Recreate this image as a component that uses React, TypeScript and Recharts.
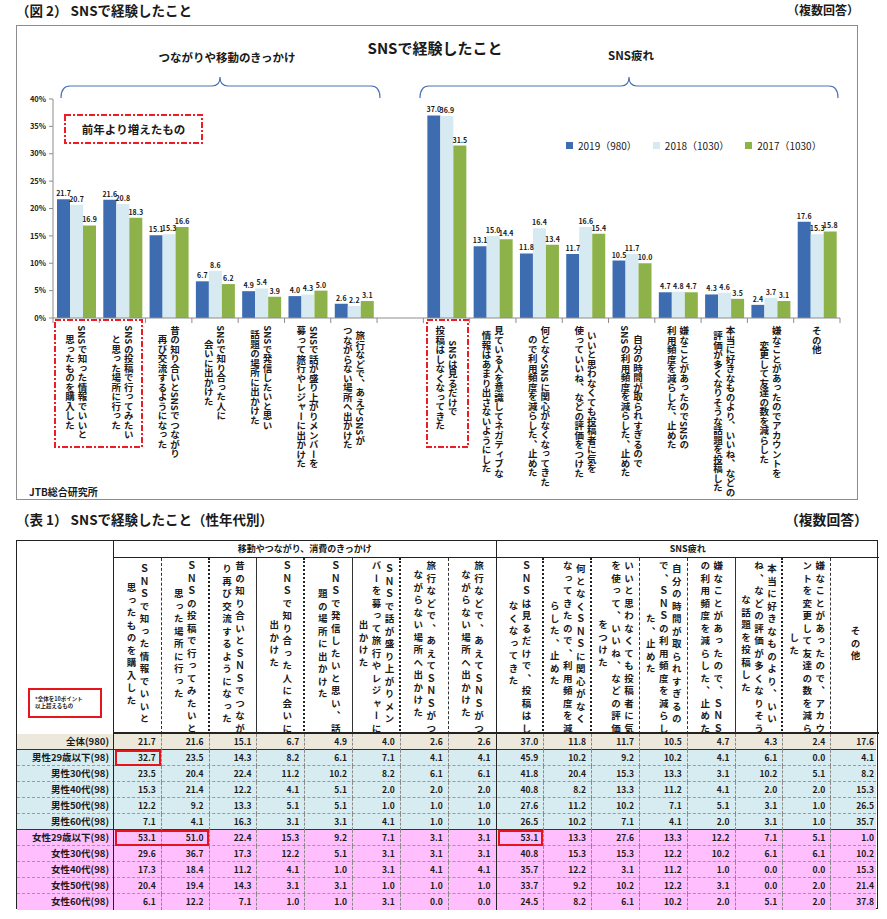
import React from 'react';
import { BarChart, Bar, XAxis, YAxis, Legend, LabelList } from 'recharts';

const FONT = "'Noto Sans CJK JP', 'Noto Sans', sans-serif";

// chart categories (c8 is the empty gap between the two groups)
const CATEGORIES = ['c1', 'c2', 'c3', 'c4', 'c5', 'c6', 'c7', 'c8', 'c9', 'c10', 'c11', 'c12', 'c13', 'c14', 'c15', 'c16', 'c17'];

const CAT_LABELS: string[][] = [
  ['SNSで知った情報でいいと', '思ったものを購入した'],
  ['SNSの投稿で行ってみたい', 'と思った場所に行った'],
  ['昔の知り合いとSNSでつながり', '再び交流するようになった'],
  ['SNSで知り合った人に', '会いに出かけた'],
  ['SNSで発信したいと思い', '話題の場所に出かけた'],
  ['SNSで話が盛り上がりメンバーを', '募って旅行やレジャーに出かけた'],
  ['旅行などで、あえてSNSが', 'つながらない場所へ出かけた'],
  [],
  ['SNSは見るだけで', '投稿はしなくなってきた'],
  ['見ている人を意識してネガティブな', '情報はあまり出さないようにした'],
  ['何となくSNSに関心がなくなってきた', 'ので利用頻度を減らした、止めた'],
  ['いいと思わなくても投稿者に気を', '使っていいね、などの評価をつけた'],
  ['自分の時間が取られすぎるので', 'SNSの利用頻度を減らした、止めた'],
  ['嫌なことがあったのでSNSの', '利用頻度を減らした、止めた'],
  ['本当に好きなものより、いいね、などの', '評価が多くなりそうな話題を投稿した'],
  ['嫌なことがあったのでアカウントを', '変更して友達の数を減らした'],
  ['その他'],
];

const V2019 = [21.7, 21.6, 15.1, 6.7, 4.9, 4.0, 2.6, null, 37.0, 13.1, 11.8, 11.7, 10.5, 4.7, 4.3, 2.4, 17.6];
const V2018 = [20.7, 20.8, 15.3, 8.6, 5.4, 4.3, 2.2, null, 36.9, 15.0, 16.4, 16.6, 11.7, 4.8, 4.6, 3.7, 15.3];
const V2017 = [16.9, 18.3, 16.6, 6.2, 3.9, 5.0, 3.1, null, 31.5, 14.4, 13.4, 15.4, 10.0, 4.7, 3.5, 3.1, 15.8];

const SERIES = [
  { key: 'y2019', name: '2019（980）', color: '#3d6cb0' },
  { key: 'y2018', name: '2018（1030）', color: '#d7eaf1' },
  { key: 'y2017', name: '2017（1030）', color: '#8db24a' },
];

const Y_TICKS = [0, 5, 10, 15, 20, 25, 30, 35, 40];

// table (表1)
const TABLE_HEADERS: string[][] = [
  ['ＳＮＳで知った情報でいいと', '思ったものを購入した'],
  ['ＳＮＳの投稿で行ってみたいと', '思った場所に行った'],
  ['昔の知り合いとＳＮＳでつなが', 'り再び交流するようになった'],
  ['ＳＮＳで知り合った人に会いに', '出かけた'],
  ['ＳＮＳで発信したいと思い、話', '題の場所に出かけた'],
  ['ＳＮＳで話が盛り上がりメン', 'バーを募って旅行やレジャーに', '出かけた'],
  ['旅行などで、あえてＳＮＳがつ', 'ながらない場所へ出かけた'],
  ['旅行などで、あえてＳＮＳがつ', 'ながらない場所へ出かけた'],
  ['ＳＮＳは見るだけで、投稿はし', 'なくなってきた'],
  ['何となくＳＮＳに関心がなく', 'なってきたので、利用頻度を減', 'らした、止めた'],
  ['いいと思わなくても投稿者に気', 'を使って、いいね、などの評価', 'をつけた'],
  ['自分の時間が取られすぎるの', 'で、ＳＮＳの利用頻度を減らし', 'た、止めた'],
  ['嫌なことがあったので、ＳＮＳ', 'の利用頻度を減らした、止めた'],
  ['本当に好きなものより、いい', 'ね、などの評価が多くなりそう', 'な話題を投稿した'],
  ['嫌なことがあったので、アカウ', 'ントを変更して友達の数を減ら', 'した'],
  ['その他'],
];

const TABLE_GROUPS = ['移動やつながり、消費のきっかけ', 'SNS疲れ'];

const ROW_LABELS = [
  '全体(980)', '男性29歳以下(98)', '男性30代(98)', '男性40代(98)', '男性50代(98)', '男性60代(98)',
  '女性29歳以下(98)', '女性30代(98)', '女性40代(98)', '女性50代(98)', '女性60代(98)',
];

const ROW_VALUES = [
  [21.7, 21.6, 15.1, 6.7, 4.9, 4.0, 2.6, 2.6, 37.0, 11.8, 11.7, 10.5, 4.7, 4.3, 2.4, 17.6],
  [32.7, 23.5, 14.3, 8.2, 6.1, 7.1, 4.1, 4.1, 45.9, 10.2, 9.2, 10.2, 4.1, 6.1, 0.0, 4.1],
  [23.5, 20.4, 22.4, 11.2, 10.2, 8.2, 6.1, 6.1, 41.8, 20.4, 15.3, 13.3, 3.1, 10.2, 5.1, 8.2],
  [15.3, 21.4, 12.2, 4.1, 5.1, 2.0, 2.0, 2.0, 40.8, 8.2, 13.3, 11.2, 4.1, 2.0, 2.0, 15.3],
  [12.2, 9.2, 13.3, 5.1, 5.1, 1.0, 1.0, 1.0, 27.6, 11.2, 10.2, 7.1, 5.1, 3.1, 1.0, 26.5],
  [7.1, 4.1, 16.3, 3.1, 3.1, 4.1, 1.0, 1.0, 26.5, 10.2, 7.1, 4.1, 2.0, 3.1, 1.0, 35.7],
  [53.1, 51.0, 22.4, 15.3, 9.2, 7.1, 3.1, 3.1, 53.1, 13.3, 27.6, 13.3, 12.2, 7.1, 5.1, 1.0],
  [29.6, 36.7, 17.3, 12.2, 5.1, 3.1, 3.1, 3.1, 40.8, 15.3, 15.3, 12.2, 10.2, 6.1, 6.1, 10.2],
  [17.3, 18.4, 11.2, 4.1, 1.0, 3.1, 4.1, 4.1, 35.7, 12.2, 3.1, 11.2, 1.0, 0.0, 0.0, 15.3],
  [20.4, 19.4, 14.3, 3.1, 3.1, 1.0, 1.0, 1.0, 33.7, 9.2, 10.2, 12.2, 3.1, 0.0, 2.0, 21.4],
  [6.1, 12.2, 7.1, 1.0, 1.0, 3.1, 0.0, 0.0, 24.5, 8.2, 6.1, 10.2, 2.0, 5.1, 2.0, 37.8],
];

// cells marked as "全体を10ポイント以上超えるもの": [row, col, span]
const HIGHLIGHTS = [[1, 0, 1], [6, 0, 2], [6, 8, 1]];

const chartData = CATEGORIES.map((c, i) => ({ key: c, y2019: V2019[i], y2018: V2018[i], y2017: V2017[i] }));

// chart layout
const CHART_W = 842;
const CHART_H = 475;
const MARGIN = { top: 74, right: 18, bottom: 7, left: 0 };
const Y_W = 37;
const BAND = (CHART_W - MARGIN.left - MARGIN.right - Y_W) / CATEGORIES.length;

const textLen = (s: string, fs: number) =>
  Array.from(s).reduce((a, ch) => a + (ch.charCodeAt(0) < 128 ? 0.62 * fs : fs), 0);

const XTick = (props: any) => {
  const { x, y, payload } = props;
  const idx = CATEGORIES.indexOf(payload.value);
  const lines = CAT_LABELS[idx] || [];
  const fs = 9.5;
  const pitch = 12.5;
  const maxLen = lines.length ? Math.max(...lines.map((l) => textLen(l, fs))) : 0;
  const cy = y + 8 + maxLen / 2;
  return (
    <g>
      <line x1={x - BAND / 2} x2={x - BAND / 2} y1={y} y2={y + 5} stroke="#8c8c8c" />
      {idx === CATEGORIES.length - 1 && (
        <line x1={x + BAND / 2} x2={x + BAND / 2} y1={y} y2={y + 5} stroke="#8c8c8c" />
      )}
      {lines.map((ln, i) => (
        <text
          key={i}
          x={x + ((lines.length - 1) / 2 - i) * pitch}
          y={cy}
          textAnchor="middle"
          style={{ writingMode: 'vertical-rl' as any }}
          fontSize={fs}
          fontWeight={700}
          fill="#1a1a1a"
          fontFamily={FONT}
        >
          {ln}
        </text>
      ))}
    </g>
  );
};

const LegendContent = () => (
  <div style={{ display: 'flex', gap: 16, fontFamily: FONT, fontSize: 10, color: '#1a1a1a', whiteSpace: 'nowrap' }}>
    {SERIES.map((s) => (
      <div key={s.key} style={{ display: 'flex', alignItems: 'center', gap: 5 }}>
        <span style={{ width: 7, height: 7, background: s.color, display: 'inline-block' }} />
        <span>{s.name}</span>
      </div>
    ))}
  </div>
);

const Centered = ({ cx, cy, fs, weight = 700, children }: any) => (
  <div
    style={{
      position: 'absolute', left: cx - 200, top: cy - fs, width: 400, height: fs * 2, lineHeight: `${fs * 2}px`,
      textAlign: 'center', fontSize: fs, fontWeight: weight, color: '#1a1a1a', whiteSpace: 'nowrap',
    }}
  >
    {children}
  </div>
);

// table layout
const TX = 16;
const TY = 540;
const TW = 862;
const LABEL_W = 97;
const COL_W = (TW - LABEL_W) / 16;
const H1 = 17;
const H2 = 176;
const ROW_H = 16;
const HDR_SEP = [
  '1px dashed #333', '2px dotted #222', '1px solid #333', '2px dotted #222', '1px solid #333', '2px dotted #222',
  '1px dashed #333', '1.5px solid #222', '2px dotted #222', '2px dotted #222', '1px dashed #333', '1px dashed #333',
  '1.5px solid #333', '2px dotted #222', '1px dashed #333', 'none',
];
const ROW_BG = ['#ece8dc', '#d6ecf0', '#d6ecf0', '#d6ecf0', '#d6ecf0', '#d6ecf0', '#ffbfff', '#ffbfff', '#ffbfff', '#ffbfff', '#ffbfff'];

const Table = () => {
  const bodyTop = H1 + H2;
  return (
    <div style={{ position: 'absolute', left: TX, top: TY, width: TW, height: bodyTop + ROW_H * ROW_LABELS.length, border: '1.5px solid #222', boxSizing: 'border-box' }}>
      {/* label header */}
      <div style={{ position: 'absolute', left: 0, top: 0, width: LABEL_W, height: bodyTop, borderRight: '1.5px solid #222', boxSizing: 'border-box' }}>
        <div style={{ position: 'absolute', left: 11, top: 147, width: 74, height: 30, border: '2px solid #e8141b', boxSizing: 'border-box', fontSize: 5.5, fontWeight: 700, lineHeight: '7px', padding: '6px 0 0 5px', color: '#222' }}>
          *全体を10ポイント<br />以上超えるもの
        </div>
      </div>
      {TABLE_GROUPS.map((g, gi) => (
        <div key={g} style={{ position: 'absolute', left: LABEL_W + gi * 8 * COL_W, top: 0, width: 8 * COL_W, height: H1, borderBottom: '1px solid #222', borderRight: gi === 0 ? '1.5px solid #222' : 'none', boxSizing: 'border-box', fontSize: 9, fontWeight: 700, textAlign: 'center', lineHeight: `${H1 - 1}px`, color: '#1a1a1a' }}>
          {g}
        </div>
      ))}
      {TABLE_HEADERS.map((lines, c) => (
        <div key={c} style={{ position: 'absolute', left: LABEL_W + c * COL_W, top: H1, width: COL_W, height: H2, borderRight: HDR_SEP[c], borderBottom: '2px solid #222', boxSizing: 'border-box', display: 'flex', justifyContent: 'center', alignItems: 'center' }}>
          <div style={{ writingMode: 'vertical-rl', height: H2 - 8, textAlign: 'center', fontSize: 9.5, fontWeight: 700, letterSpacing: 3, lineHeight: '13px', whiteSpace: 'nowrap', color: '#1a1a1a' }}>
            {lines.map((l, i) => (
              <React.Fragment key={i}>{i > 0 && <br />}{l}</React.Fragment>
            ))}
          </div>
        </div>
      ))}
      {ROW_LABELS.map((lab, r) => {
        const sep = r === ROW_LABELS.length - 1 ? 'none' : r === 0 || r === 5 ? '1.5px solid #333' : '1px dashed #9a9a9a';
        return (
          <div key={lab} style={{ position: 'absolute', left: 0, top: bodyTop + r * ROW_H, width: TW - 3, height: ROW_H, background: ROW_BG[r], borderBottom: sep, boxSizing: 'border-box' }}>
            <div style={{ position: 'absolute', left: 0, top: 0, width: LABEL_W, height: ROW_H, borderRight: '1.5px solid #222', boxSizing: 'border-box', textAlign: 'right', paddingRight: 4, fontSize: 9.5, fontWeight: 700, lineHeight: `${ROW_H - 1}px`, color: '#1a1a1a' }}>
              {lab}
            </div>
            {ROW_VALUES[r].map((v, c) => (
              <div key={c} style={{ position: 'absolute', left: LABEL_W + c * COL_W, top: 0, width: COL_W, height: ROW_H, borderRight: c === 15 ? 'none' : c === 7 ? '1.5px solid #222' : '1px dashed #8a8a8a', boxSizing: 'border-box', textAlign: 'right', paddingRight: 5, fontSize: 8.5, fontWeight: 700, lineHeight: `${ROW_H - 1}px`, color: '#1a1a1a' }}>
                {v.toFixed(1)}
              </div>
            ))}
          </div>
        );
      })}
      {HIGHLIGHTS.map(([r, c, span], i) => (
        <div key={i} style={{ position: 'absolute', left: LABEL_W + c * COL_W + 1, top: bodyTop + r * ROW_H, width: span * COL_W - 2, height: ROW_H, border: '2px solid #e8141b', boxSizing: 'border-box' }} />
      ))}
    </div>
  );
};

const DASH = '6 2 2 2';

export default function App() {
  return (
    <div style={{ position: 'absolute', left: 0, top: 0, width: 887, height: 919, background: '#fff', fontFamily: FONT, overflow: 'hidden', color: '#1a1a1a' }}>
      {/* figure titles */}
      <div style={{ position: 'absolute', left: 16, top: 0, fontSize: 13.5, fontWeight: 700, lineHeight: '20px', whiteSpace: 'nowrap' }}>（図 2）&nbsp;SNSで経験したこと</div>
      <div style={{ position: 'absolute', left: 787, top: 0, fontSize: 12, fontWeight: 700, lineHeight: '20px', whiteSpace: 'nowrap' }}>（複数回答）</div>

      {/* chart frame */}
      <div style={{ position: 'absolute', left: 16, top: 25, width: CHART_W, height: CHART_H, border: '1px solid #8c8c8c', boxSizing: 'border-box' }} />
      <div style={{ position: 'absolute', left: 16, top: 25, width: CHART_W, height: CHART_H }}>
        <BarChart width={CHART_W} height={CHART_H} data={chartData} margin={MARGIN} barCategoryGap={4} barGap={0}>
          <XAxis dataKey="key" interval={0} tick={<XTick />} tickLine={false} tickSize={0} tickMargin={0} height={175} axisLine={{ stroke: '#8c8c8c' }} />
          <YAxis
            width={Y_W}
            domain={[0, 40]}
            ticks={Y_TICKS}
            interval={0}
            tickFormatter={(v) => `${v}%`}
            tickSize={4}
            tickMargin={3}
            axisLine={{ stroke: '#8c8c8c' }}
            tickLine={{ stroke: '#8c8c8c' }}
            tick={{ fontSize: 7.5, fontWeight: 700, fill: '#222', fontFamily: FONT }}
          />
          <Legend layout="horizontal" verticalAlign="middle" align="center" wrapperStyle={{ left: 550, top: 113, width: 300, height: 16 }} content={<LegendContent />} />
          {SERIES.map((s) => (
            <Bar key={s.key} dataKey={s.key} name={s.name} fill={s.color} isAnimationActive={false}>
              <LabelList
                dataKey={s.key}
                position="top"
                offset={3}
                formatter={(v: any) => (v == null ? '' : Number(v).toFixed(1))}
                fontSize={7}
                fontWeight={700}
                fill="#1a1a1a"
                fontFamily={FONT}
              />
            </Bar>
          ))}
        </BarChart>
      </div>

      {/* annotations on the chart */}
      <Centered cx={435} cy={48} fs={15}>SNSで経験したこと</Centered>
      <Centered cx={227} cy={57} fs={11.5}>つながりや移動のきっかけ</Centered>
      <Centered cx={631} cy={55} fs={11.5}>SNS疲れ</Centered>
      <div style={{ position: 'absolute', left: 65, top: 115, width: 137, height: 28, lineHeight: '28px', textAlign: 'center', fontSize: 11.5, fontWeight: 700 }}>前年より増えたもの</div>
      <div style={{ position: 'absolute', left: 29, top: 484, fontSize: 10, fontWeight: 700, lineHeight: '16px' }}>JTB総合研究所</div>
      <svg width={887} height={919} style={{ position: 'absolute', left: 0, top: 0, pointerEvents: 'none' }}>
        <path d="M61,98 Q61,86 70,86 L212,86 Q220,86 220,77 Q220,86 228,86 L371,86 Q380,86 380,98" fill="none" stroke="#4a72b5" strokeWidth={1.2} />
        <path d="M420,98 Q420,86 429,86 L621,86 Q629,86 629,77 Q629,86 637,86 L829,86 Q838,86 838,98" fill="none" stroke="#4a72b5" strokeWidth={1.2} />
        <rect x={65} y={115} width={137} height={28} fill="none" stroke="#ee1c25" strokeWidth={2} strokeDasharray={DASH} />
        <rect x={55} y={320} width={87} height={127} fill="none" stroke="#ee1c25" strokeWidth={2} strokeDasharray={DASH} />
        <rect x={427} y={320} width={41} height={127} fill="none" stroke="#ee1c25" strokeWidth={2} strokeDasharray={DASH} />
      </svg>

      {/* table titles */}
      <div style={{ position: 'absolute', left: 16, top: 509, fontSize: 13.5, fontWeight: 700, lineHeight: '20px', whiteSpace: 'nowrap' }}>（表 1）&nbsp;SNSで経験したこと（性年代別）</div>
      <div style={{ position: 'absolute', left: 785, top: 509, fontSize: 13.8, fontWeight: 700, lineHeight: '20px', whiteSpace: 'nowrap' }}>（複数回答）</div>
      <Table />
    </div>
  );
}
